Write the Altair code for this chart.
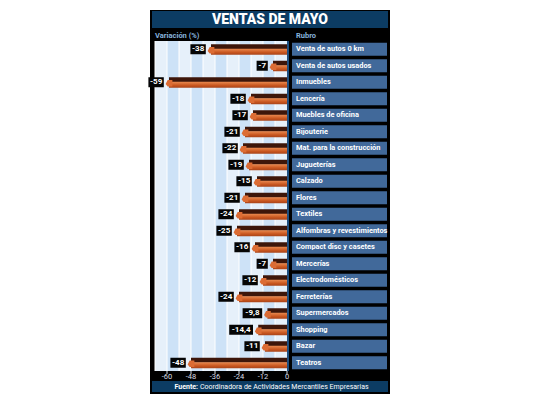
import altair as alt
import pandas as pd

# Ventas de mayo: variación interanual (%) por rubro
rubros = [
    "Venta de autos 0 km", "Venta de autos usados", "Inmuebles", "Lencería",
    "Muebles de oficina", "Bijouterie", "Mat. para la construcción", "Jugueterías",
    "Calzado", "Flores", "Textiles", "Alfombras y revestimientos",
    "Compact disc y casetes", "Mercerías", "Electrodomésticos", "Ferreterías",
    "Supermercados", "Shopping", "Bazar", "Teatros",
]
variacion = [-38, -7, -59, -18, -17, -21, -22, -19, -15, -21, -24, -25,
             -16, -7, -12, -24, -9.8, -14.4, -11, -48]
etiquetas = ["-38", "-7", "-59", "-18", "-17", "-21", "-22", "-19", "-15", "-21",
             "-24", "-25", "-16", "-7", "-12", "-24", "-9,8", "-14,4", "-11", "-48"]
ticks = [-60, -48, -36, -24, -12, 0]
tick_labels = ["-60", "-48", "-36", "-24", "-12", "0"]
franjas = list(range(-66, 0, 6))

FONT = "Roboto"
NAVY = "#0c3c63"
BOX = "#41699a"

df = pd.DataFrame({"rubro": rubros, "v": variacion, "lbl": etiquetas})
df["box_r"] = df["v"] - 2.6
df["box_l"] = df["box_r"] - (df["lbl"].str.len() * 2.1 + 1.4)
df["box_c"] = (df["box_l"] + df["box_r"]) / 2
df["cero"] = 0

stripes = pd.DataFrame({"a": franjas, "b": [f + 6 for f in franjas],
                        "tono": ["a" if i % 2 == 0 else "b" for i in range(len(franjas))]})
tk = pd.DataFrame({"t": ticks, "txt": tick_labels})
one = pd.DataFrame({"k": [0]})

xs = alt.Scale(domain=[-66, 0], nice=False, zero=False)
ys = alt.Scale(domain=rubros, paddingInner=0, paddingOuter=0)
Y = alt.Y("rubro:N", scale=ys, sort=rubros, axis=None)


def X(field):
    return alt.X(field, scale=xs, axis=None)


frame = alt.Chart(one).mark_rect(color="#000000").encode(
    x=alt.value(-5), x2=alt.value(235), y=alt.value(-31), y2=alt.value(353))
title_band = alt.Chart(one).mark_rect(color=NAVY).encode(
    x=alt.value(-3), x2=alt.value(233), y=alt.value(-30), y2=alt.value(-13))
title = alt.Chart(one).mark_text(
    text="VENTAS DE MAYO", font=FONT, fontSize=14, fontWeight=900,
    color="white", align="center", baseline="middle").encode(
    x=alt.value(115), y=alt.value(-21))
sub1 = alt.Chart(one).mark_text(
    text="Variación (%)", font=FONT, fontSize=7.5, fontWeight="bold",
    color="#86b2dc", align="left", baseline="middle").encode(
    x=alt.value(0), y=alt.value(-5))
sub2 = alt.Chart(one).mark_text(
    text="Rubro", font=FONT, fontSize=7.5, fontWeight="bold",
    color="#86b2dc", align="left", baseline="middle").encode(
    x=alt.value(141), y=alt.value(-5))

bands = alt.Chart(stripes).mark_rect().encode(
    x=X("a:Q"), x2="b:Q",
    y=alt.value(0), y2=alt.value(330),
    color=alt.Color("tono:N", scale=alt.Scale(domain=["a", "b"],
                    range=["#e6f0fa", "#cde2f7"]), legend=None),
)
gridlines = alt.Chart(stripes).mark_rule(color="white", strokeWidth=1).encode(
    x=X("a:Q"), y=alt.value(0), y2=alt.value(330))
zero_line = alt.Chart(one).mark_rule(color="#1e4f80", strokeWidth=2).encode(
    x=alt.value(133), y=alt.value(0), y2=alt.value(330))

# Eje inferior: marcas y rótulos de la escala
tick_marks = alt.Chart(tk).mark_rule(color="#d0d8e0", strokeWidth=1).encode(
    x=X("t:Q"), y=alt.value(330), y2=alt.value(333))
tick_text = alt.Chart(tk).mark_text(
    font=FONT, fontSize=7.5, color="#d8dee6", align="center",
    baseline="top").encode(x=X("t:Q"), y=alt.value(332), text="txt:N")

cat_box = alt.Chart(df).mark_bar(color=BOX, height=13).encode(
    y=Y, x=alt.value(137), x2=alt.value(232))
cat_txt = alt.Chart(df).mark_text(
    font=FONT, fontSize=7.4, fontWeight="bold", color="white",
    align="left", baseline="middle").encode(
    y=Y, x=alt.value(141), text="rubro:N")

lbl_box = alt.Chart(df).mark_bar(color="#050505", height=10).encode(
    y=Y, x=X("box_l:Q"), x2="box_r:Q")
lbl_txt = alt.Chart(df).mark_text(
    font=FONT, fontSize=8, fontWeight="bold", color="white",
    align="center", baseline="middle").encode(
    y=Y, x=X("box_c:Q"), text="lbl:N")

top_face = alt.Chart(df).mark_bar(color="#3d160a", height=5, yOffset=-2.5).encode(
    y=Y, x=X("v:Q"), x2="cero:Q")
front = alt.Chart(df).mark_bar(
    height=6, yOffset=2.5,
    color=alt.LinearGradient(gradient="linear", x1=0, y1=0, x2=0, y2=1,
                             stops=[alt.GradientStop(color="#e98a50", offset=0),
                                    alt.GradientStop(color="#c9561f", offset=0.6),
                                    alt.GradientStop(color="#a8441a", offset=1)])
).encode(y=Y, x=X("v:Q"), x2="cero:Q")
cap = alt.Chart(df).mark_point(
    shape="M -0.4 -1 L 1 -1 L 1 1 L -0.4 1 L -1 0.2 Z",
    filled=True, color="#dc6c34", opacity=1, size=45, yOffset=1).encode(
    y=Y, x=X("v:Q"))

foot_band = alt.Chart(one).mark_rect(color=NAVY).encode(
    x=alt.value(-3), x2=alt.value(233), y=alt.value(340), y2=alt.value(351))
foot1 = alt.Chart(one).mark_text(
    text="Fuente:", font=FONT, fontSize=7, fontWeight="bold", color="white",
    align="right", baseline="middle").encode(x=alt.value(43), y=alt.value(346))
foot2 = alt.Chart(one).mark_text(
    text="Coordinadora de Actividades Mercantiles Empresarias", font=FONT,
    fontSize=7, color="white", align="left", baseline="middle").encode(
    x=alt.value(45), y=alt.value(346))

chart = alt.layer(
    frame, title_band, title, sub1, sub2, bands, gridlines, zero_line,
    tick_marks, tick_text,
    cat_box, cat_txt, lbl_box, lbl_txt, top_face, front, cap,
    foot_band, foot1, foot2,
).properties(
    width=132, height=330,
    autosize=alt.AutoSizeParams(type="none"),
    padding={"left": 155, "top": 41, "right": 253, "bottom": 34},
    background="white",
).configure_view(stroke=None)

chart.save("out.html", embed_options={"renderer": "svg", "actions": False})
